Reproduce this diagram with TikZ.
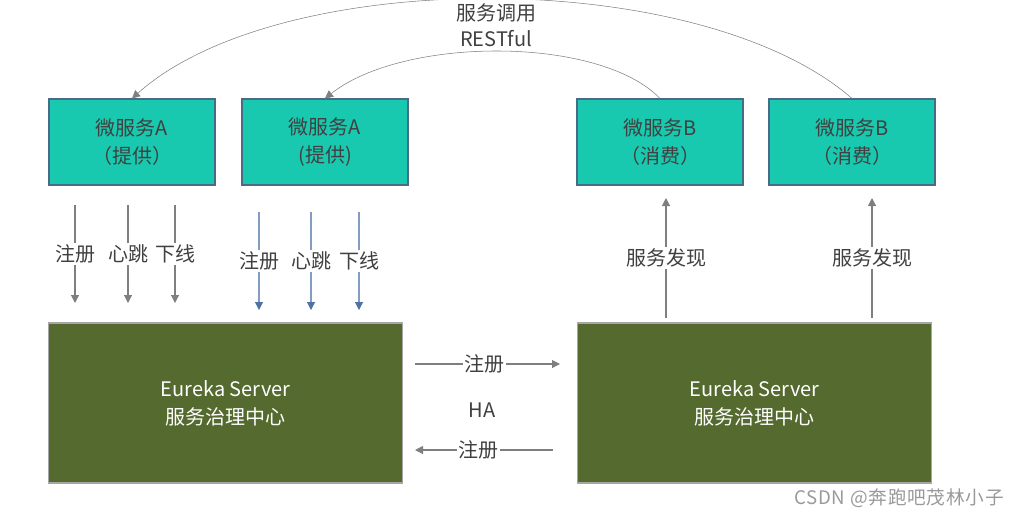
\documentclass[tikz,border=0pt]{standalone}
\usepackage{fontspec}
\setmainfont{Noto Sans CJK SC}
\usetikzlibrary{arrows.meta}

\definecolor{svcfill}{HTML}{19C9AF}
\definecolor{svcline}{HTML}{4A6A8A}
\definecolor{srvfill}{HTML}{556A2F}
\definecolor{srvline}{HTML}{A6A6A6}
\definecolor{arrgray}{HTML}{7F7F7F}
\definecolor{arrblue}{HTML}{4F72A3}
\definecolor{txtdark}{HTML}{404040}

\tikzset{
  svc/.style={draw=svcline, fill=svcfill, thick, minimum width=124.5pt, minimum height=64.5pt,
    align=center, text=txtdark, font=\fontsize{15}{21.5}\selectfont},
  srv/.style={draw=srvline, fill=srvfill, thick, minimum width=265pt, minimum height=120pt,
    align=center, text=white, font=\fontsize{15}{21}\selectfont},
  flow/.style={thick, draw=arrgray, -{Triangle[width=6pt,length=6pt]}},
  flowblue/.style={thick, draw=arrblue!70, -{Triangle[width=6pt,length=6pt,fill=arrblue,color=arrblue]}},
  lbl/.style={fill=white, inner sep=1pt, text=txtdark, font=\fontsize{15}{18}\selectfont},
}

\begin{document}
\begin{tikzpicture}[x=0.75pt, y=-0.75pt]
\useasboundingbox (0,0) rectangle (1020,519);

% microservices
\node[svc] (A1) at (132,142) {微服务A\\（提供）};
\node[svc] (A2) at (325,142) {微服务A\\(提供)};
\node[svc] (B1) at (660,142) {微服务B\\（消费）};
\node[svc] (B2) at (852,142) {微服务B\\（消费）};

% eureka servers
\node[srv] (S1) at (225.5,403) {Eureka Server\\服务治理中心};
\node[srv] (S2) at (754.5,403) {Eureka Server\\服务治理中心};

% RESTful calls
\draw[flow, thin] (B2.north) .. controls (700,-34) and (280,-34) .. (A1.north);
\draw[flow, thin] (B1.north) .. controls (600,36) and (404,36) .. (A2.north);
\node[lbl, align=center, font=\fontsize{15}{19.5}\selectfont, fill=none] (call) at (496,25) {服务调用\\RESTful};

% register, heartbeat, cancel
\foreach \x/\t [count=\i] in {75/注册, 128/心跳, 175/下线} {
  \coordinate (p\i) at (\x,205);
  \coordinate (q\i) at (\x,303);
  \draw[flow] (p\i) -- node[lbl] {\t} (q\i);
}
\foreach \x/\t [count=\i] in {259/注册, 311/心跳, 359/下线} {
  \coordinate (u\i) at (\x,212);
  \coordinate (v\i) at (\x,310);
  \draw[flowblue] (u\i) -- node[lbl] {\t} (v\i);
}

% discovery
\coordinate (d1) at (666,318);
\coordinate (e1) at (666,198);
\coordinate (d2) at (872,318);
\coordinate (e2) at (872,198);
\draw[flow] (d1) -- node[lbl] {服务发现} (e1);
\draw[flow] (d2) -- node[lbl] {服务发现} (e2);

% HA replication
\coordinate (h1) at (415,364);
\coordinate (h2) at (560,364);
\coordinate (h3) at (553,450);
\coordinate (h4) at (415,450);
\draw[flow] (h1) -- node[lbl, pos=0.48] {注册} (h2);
\draw[flow] (h3) -- node[lbl, pos=0.54] {注册} (h4);
\node[lbl] (ha) at (482,410) {HA};

\node[text=gray!80, font=\fontsize{14}{16}\selectfont\addfontfeature{LetterSpace=4}] (mark) at (899,498) {CSDN @奔跑吧茂林小子};
\end{tikzpicture}
\end{document}
